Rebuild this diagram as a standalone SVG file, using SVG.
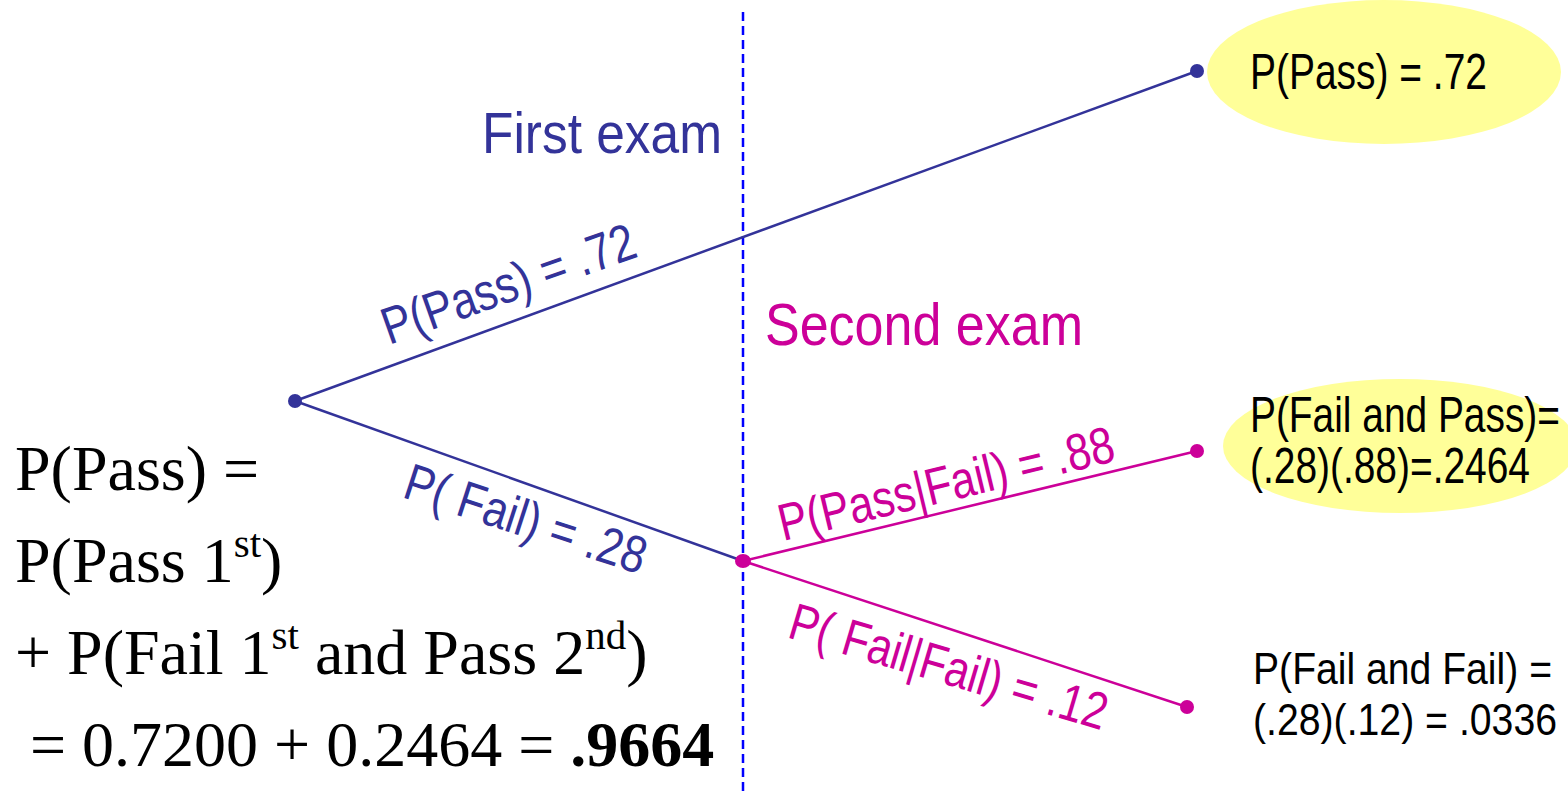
<svg xmlns="http://www.w3.org/2000/svg" width="1568" height="796" viewBox="0 0 1568 796">
<style>
.sans{font-family:"Liberation Sans",Arial,sans-serif;}
.serif{font-family:"Liberation Serif","Times New Roman",serif;fill:#000;font-size:64px;}
.blue{fill:#333399;}
.mag{fill:#cc0099;}
.bl{stroke:#333399;stroke-width:2.5;fill:none;}
.ml{stroke:#cc0099;stroke-width:2.5;fill:none;}
.lbl{font-size:52px;}
.res{fill:#000;}
.oval{fill:#ffff99;}
</style>
<rect width="1568" height="796" fill="#fff"/>
<g id="divider">
<line x1="743" y1="12" x2="743" y2="796" stroke="#0000ff" stroke-width="2.5" stroke-dasharray="9 5"/>
</g>
<g id="headers">
<text class="sans blue" x="482" y="153" font-size="58" textLength="240" lengthAdjust="spacingAndGlyphs">First exam</text>
<text class="sans mag" x="765" y="345" font-size="60" textLength="318" lengthAdjust="spacingAndGlyphs">Second exam</text>
</g>
<g id="connectors">
<line class="bl" x1="295" y1="401" x2="1197" y2="71"/>
<line class="bl" x1="295" y1="401" x2="743" y2="561"/>
<line class="ml" x1="743" y1="561" x2="1197" y2="451"/>
<line class="ml" x1="743" y1="561" x2="1187" y2="707"/>
<text class="sans blue lbl" transform="translate(389,345) rotate(-19.5)" textLength="266" lengthAdjust="spacingAndGlyphs">P(Pass) = .72</text>
<text class="sans blue lbl" transform="translate(401,497) rotate(18)" textLength="251" lengthAdjust="spacingAndGlyphs">P( Fail) = .28</text>
<text class="sans mag lbl" transform="translate(783,541) rotate(-13.5)" textLength="344" lengthAdjust="spacingAndGlyphs">P(Pass|Fail) = .88</text>
<text class="sans mag lbl" transform="translate(786,637) rotate(16.5)" textLength="329" lengthAdjust="spacingAndGlyphs">P( Fail|Fail) = .12</text>
</g>
<g id="root">
<circle cx="295" cy="401" r="7" fill="#333399"/>
</g>
<g id="mid">
<ellipse cx="743" cy="561" rx="8" ry="7" fill="#cc0099"/>
</g>
<g id="pass">
<ellipse class="oval" cx="1384" cy="72" rx="177" ry="72"/>
<circle cx="1197" cy="71" r="7" fill="#333399"/>
<text class="sans res" x="1250" y="89" font-size="50" textLength="237" lengthAdjust="spacingAndGlyphs">P(Pass) = .72</text>
</g>
<g id="failpass">
<ellipse class="oval" cx="1400" cy="446" rx="177" ry="67"/>
<circle cx="1197" cy="451" r="7" fill="#cc0099"/>
<text class="sans res" x="1250" y="432" font-size="50" textLength="310" lengthAdjust="spacingAndGlyphs">P(Fail and Pass)=</text>
<text class="sans res" x="1250" y="483" font-size="50" textLength="280" lengthAdjust="spacingAndGlyphs">(.28)(.88)=.2464</text>
</g>
<g id="failfail">
<circle cx="1187" cy="707" r="7" fill="#cc0099"/>
<text class="sans res" x="1253" y="684" font-size="45" textLength="299" lengthAdjust="spacingAndGlyphs">P(Fail and Fail) =</text>
<text class="sans res" x="1253" y="735" font-size="45" textLength="304" lengthAdjust="spacingAndGlyphs">(.28)(.12) = .0336</text>
</g>
<g id="formula">
<text class="serif" x="15" y="490">P(Pass) =</text>
<text class="serif" x="15" y="582">P(Pass 1<tspan font-size="41" dy="-25">st</tspan><tspan dy="25">)</tspan></text>
<text class="serif" x="15" y="674">+ P(Fail 1<tspan font-size="41" dy="-25">st</tspan><tspan dy="25"> and Pass 2</tspan><tspan font-size="41" dy="-25">nd</tspan><tspan dy="25">)</tspan></text>
<text class="serif" x="30" y="766">= 0.7200 + 0.2464 = <tspan font-weight="bold">.9664</tspan></text>
</g>
</svg>
